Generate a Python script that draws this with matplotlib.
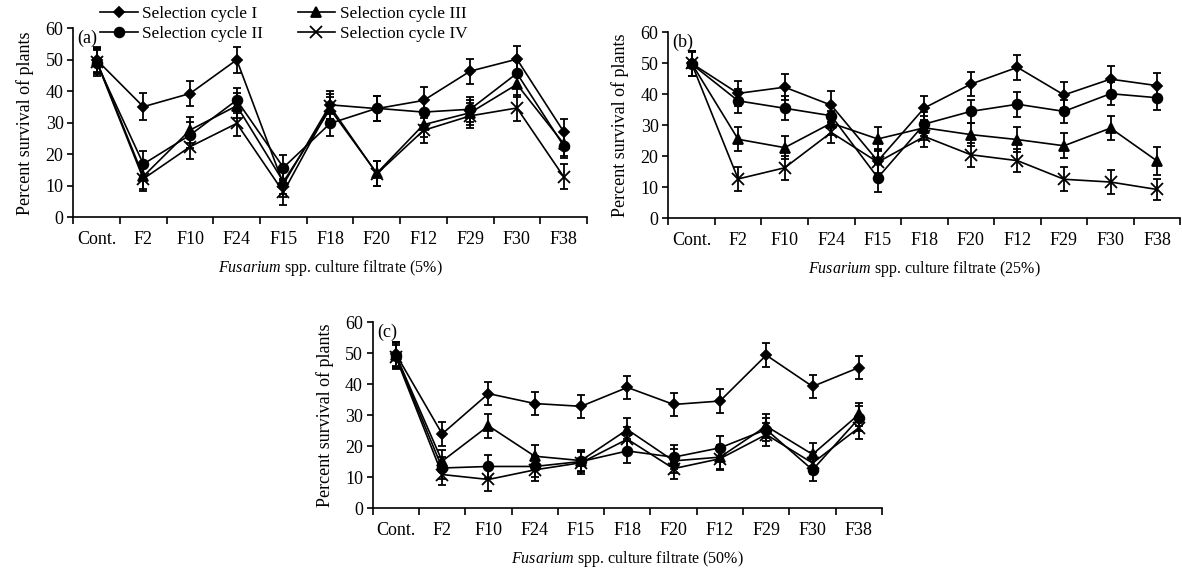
import matplotlib
matplotlib.use("Agg")
import matplotlib.pyplot as plt
import numpy as np

plt.rcParams['font.family'] = ['Liberation Serif', 'DejaVu Serif']
plt.rcParams['mathtext.fontset'] = 'custom'
plt.rcParams['mathtext.rm'] = 'Liberation Serif'
plt.rcParams['mathtext.it'] = 'Liberation Serif:italic'

categories = ["Cont.", "F2", "F10", "F24", "F15", "F18", "F20", "F12", "F29", "F30", "F38"]
series_names = ["Selection cycle I", "Selection cycle II", "Selection cycle III", "Selection cycle IV"]
y_ticks = [0, 10, 20, 30, 40, 50, 60]

# Panel (a) 5%
a_I = [50.0, 35.1, 39.3, 50.0, 10.5, 35.7, 34.5, 37.1, 46.4, 50.2, 27.2]
a_II = [49.0, 16.9, 26.1, 37.2, 15.8, 29.8, 34.6, 33.4, 34.3, 45.7, 22.7]
a_III = [49.7, 13.0, 27.7, 35.4, 11.3, 34.3, 14.0, 29.4, 33.2, 42.2, 23.4]
a_IV = [49.4, 12.2, 22.4, 29.8, 8.0, 35.2, 13.8, 27.6, 32.2, 34.7, 12.9]
a_err_I = [4.0, 4.3, 4.0, 4.2, 4.0, 4.5, 4.0, 4.2, 4.0, 4.2, 4.0]
a_err_II = [4.0, 4.0, 4.0, 4.0, 4.0, 4.0, 4.0, 4.0, 4.0, 4.0, 4.0]
a_err_III = [4.0, 4.0, 4.2, 4.0, 4.0, 4.0, 4.0, 4.0, 4.0, 4.0, 4.0]
a_err_IV = [4.0, 4.0, 4.0, 4.0, 4.0, 4.0, 4.0, 4.0, 4.0, 4.0, 4.0]

# Panel (b) 25%
b_I = [50.0, 40.3, 42.3, 36.5, 18.5, 35.6, 43.3, 48.7, 39.8, 44.9, 42.8]
b_II = [49.8, 37.9, 35.5, 33.1, 13.1, 30.4, 34.5, 36.8, 34.5, 40.2, 38.9]
b_III = [50.0, 25.5, 22.8, 30.7, 25.6, 29.2, 27.0, 25.4, 23.4, 29.1, 18.5]
b_IV = [50.0, 12.7, 16.3, 27.7, 18.1, 26.4, 20.5, 18.6, 12.6, 11.7, 9.3]
b_err_I = [4.0, 4.0, 4.2, 4.5, 4.0, 3.8, 4.0, 4.0, 4.2, 4.2, 4.0]
b_err_II = [4.0, 3.8, 3.8, 3.8, 4.5, 3.8, 3.8, 4.0, 3.8, 3.8, 3.8]
b_err_III = [4.0, 3.8, 3.8, 3.8, 4.0, 3.8, 3.8, 4.0, 4.0, 3.8, 4.5]
b_err_IV = [4.0, 3.8, 3.8, 3.5, 3.8, 3.5, 3.8, 3.8, 3.8, 3.8, 3.5]

# Panel (c) 50%
c_I = [49.8, 24.0, 37.0, 33.8, 32.9, 39.0, 33.5, 34.6, 49.4, 39.3, 45.4]
c_II = [49.2, 13.0, 13.5, 13.5, 15.1, 18.5, 16.5, 19.5, 25.4, 12.4, 29.0]
c_III = [49.5, 15.2, 26.6, 16.8, 15.4, 25.4, 15.3, 16.5, 26.5, 17.4, 30.3]
c_IV = [48.8, 10.9, 9.3, 12.4, 14.7, 22.3, 12.8, 16.0, 23.8, 14.6, 26.0]
c_err_I = [4.0, 3.8, 3.8, 3.8, 3.8, 3.8, 3.8, 3.8, 3.8, 3.8, 3.8]
c_err_II = [4.0, 3.5, 3.8, 3.5, 3.5, 3.8, 3.8, 3.8, 3.8, 3.5, 4.0]
c_err_III = [4.0, 3.5, 3.8, 3.5, 3.5, 3.8, 3.8, 3.8, 3.8, 3.8, 3.8]
c_err_IV = [4.0, 3.5, 3.8, 3.5, 3.5, 3.8, 3.5, 3.8, 3.8, 3.5, 3.8]

markers = ['D', 'o', '^', 'x']
msizes = [5.5, 7, 7.5, 8]

fig = plt.figure(figsize=(11.82, 5.73), dpi=100)
ax_a = fig.add_axes([0.062, 0.6208, 0.4346, 0.3298])
ax_b = fig.add_axes([0.5654, 0.619, 0.4332, 0.3246])
ax_c = fig.add_axes([0.3153, 0.1129, 0.4309, 0.3246])


def draw(ax, values, errors, tag, pct):
    x = np.arange(len(categories)) + 0.5
    handles = []
    for vals, errs, m, ms in zip(values, errors, markers, msizes):
        eb = ax.errorbar(x, vals, yerr=errs, color='black', marker=m, markersize=ms,
                         markeredgewidth=1.3, linewidth=1.2, elinewidth=1.3,
                         capsize=3.2, capthick=1.3, clip_on=False)
        handles.append(eb.lines[0])
    ax.set_xlim(0, len(categories))
    ax.set_ylim(0, 60)
    ax.set_yticks(y_ticks)
    ax.set_xticks(np.arange(len(categories) + 1))
    ax.set_xticklabels([])
    ax.set_xticks(x, minor=True)
    ax.set_xticklabels(categories, minor=True)
    ax.tick_params(axis='x', which='major', direction='out', length=5, width=1.2)
    ax.tick_params(axis='x', which='minor', length=0, pad=10, labelsize=13)
    ax.tick_params(axis='y', direction='out', length=4, width=1.2, labelsize=13, pad=3)
    for s in ['top', 'right']:
        ax.spines[s].set_visible(False)
    for s in ['left', 'bottom']:
        ax.spines[s].set_linewidth(1.2)
    ax.set_ylabel('Percent survival of plants', fontsize=13, labelpad=8)
    ax.set_xlabel(r'$\mathit{Fusarium}$ spp. culture filtrate (' + pct + '%)',
                  fontsize=11.5, labelpad=7)
    ax.text(0.008, 0.995, tag, transform=ax.transAxes, ha='left', va='top', fontsize=13)
    return handles


h = draw(ax_a, [a_I, a_II, a_III, a_IV], [a_err_I, a_err_II, a_err_III, a_err_IV], '(a)', '5')
draw(ax_b, [b_I, b_II, b_III, b_IV], [b_err_I, b_err_II, b_err_III, b_err_IV], '(b)', '25')
draw(ax_c, [c_I, c_II, c_III, c_IV], [c_err_I, c_err_II, c_err_III, c_err_IV], '(c)', '50')

fig.legend(h, series_names, ncol=2, loc='upper left',
           bbox_to_anchor=(100 / 1182, 1 - 6 / 573), frameon=False,
           fontsize=12.4, handlelength=2.2, handletextpad=0.25, columnspacing=2.0,
           labelspacing=0.2, borderpad=0, borderaxespad=0)

fig.savefig('out.png', dpi=100)
